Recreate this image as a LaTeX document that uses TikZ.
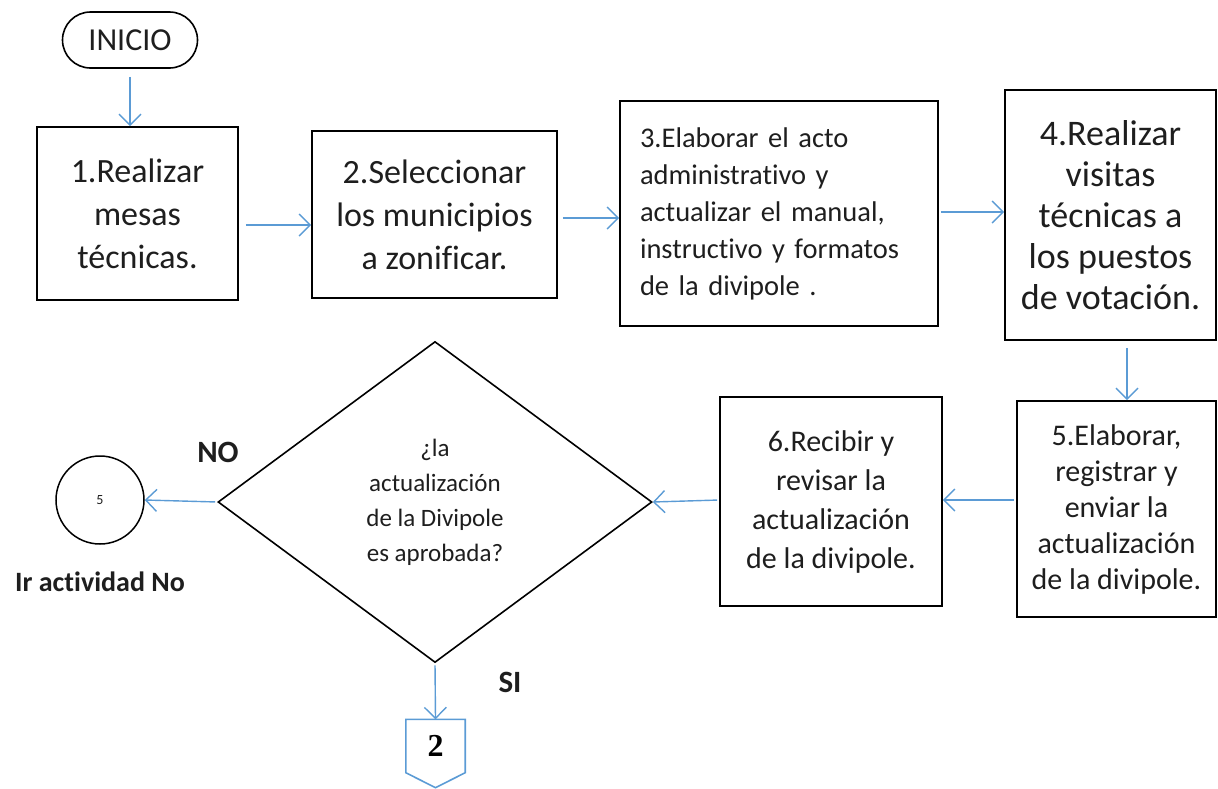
\documentclass[tikz,border=0pt]{standalone}
\usepackage{fontspec}
\setmainfont[Ligatures={NoCommon}]{Carlito}
\newfontfamily\serifb{Liberation Serif}
\usetikzlibrary{arrows.meta,shapes.geometric,calc}
\definecolor{arrowblue}{RGB}{91,155,213}
\definecolor{txt}{RGB}{30,30,30}
\tikzset{
  stepbox/.style={draw=black,line width=1.6pt,align=center,inner sep=0pt,text=txt},
  flow/.style={draw=arrowblue,line width=1.4pt,-{Straight Barb[length=11pt,width=22pt,line width=1.4pt]}},
  lbl/.style={font=\fontsize{28}{32}\selectfont\bfseries,text=txt}
}
\begin{document}
\begin{tikzpicture}[x=1pt,y=-1pt]
\useasboundingbox (0,0) rectangle (1218,788);
\node[stepbox,rounded corners=28pt,minimum width=135pt,minimum height=56pt,font=\fontsize{32}{36}\selectfont] (ini) at (130,40) {INICIO};
\node[stepbox,minimum width=201pt,minimum height=173pt,font=\fontsize{34}{43}\selectfont] (b1) at (137.5,213.5) {1.Realizar\\mesas\\técnicas.};
\node[stepbox,minimum width=245pt,minimum height=167pt,font=\fontsize{34}{43}\selectfont] (b2) at (434.5,214.5) {2.Seleccionar\\los municipios\\a zonificar.};
\node[stepbox,minimum width=318pt,minimum height=225pt,text width=278pt,align=left,font=\fontsize{28.5}{37}\selectfont] (b3) at (779,213.5) {3.Elaborar el acto\\administrativo y\\actualizar el manual,\\instructivo y formatos\\de la divipole .};
\node[stepbox,minimum width=211pt,minimum height=250pt,font=\fontsize{36}{41}\selectfont] (b4) at (1110.5,215) {4.Realizar\\visitas\\técnicas a\\los puestos\\de votación.};
\node[stepbox,minimum width=199pt,minimum height=216pt,font=\fontsize{30}{36}\selectfont] (b5) at (1116.5,509) {5.Elaborar,\\registrar y\\enviar la\\actualización\\de la divipole.};
\node[stepbox,minimum width=222pt,minimum height=209pt,font=\fontsize{30}{39}\selectfont] (b6) at (831,501.5) {6.Recibir y\\revisar la\\actualización\\de la divipole.};
\node[stepbox,diamond,minimum width=434pt,minimum height=321pt,font=\fontsize{25}{35}\selectfont] (dec) at (435,502) {¿la\\actualización\\de la Divipole\\es aprobada?};
\node[draw=black,line width=1.5pt,circle,minimum size=88pt,inner sep=0pt,font=\fontsize{14}{16}\selectfont,text=txt] (c5) at (100,500) {5};
\node[lbl] (irno) at (100,582) {Ir actividad No};
\node[lbl,font=\fontsize{31}{34}\selectfont\bfseries] (no) at (218,452) {NO};
\node[lbl,font=\fontsize{31}{34}\selectfont\bfseries] (si) at (510,682) {SI};
\node[minimum width=59pt,minimum height=53pt,inner sep=0pt,font=\serifb\fontsize{32}{36}\selectfont\bfseries] (off) at (435.5,746) {2};
\coordinate (offtip) at ($(off.south)+(0,15)$);
\draw[draw=arrowblue,line width=1.6pt] (off.south west) -- (off.north west) -- (off.north east) -- (off.south east) -- (offtip) -- cycle;
\draw[flow,shorten <=8pt] (ini.south) -- (ini.south |- b1.north);
\draw[flow,shorten <=7pt] ([yshift=-11.5pt]b1.east) -- ([yshift=-11.5pt]b1.east -| b2.west);
\draw[flow,shorten <=5pt] ([yshift=-3.5pt]b2.east) -- ([yshift=-3.5pt]b2.east -| b3.west);
\draw[flow,shorten <=2pt] ([yshift=1.5pt]b3.east) -- ([yshift=1.5pt]b3.east -| b4.west);
\draw[flow,shorten <=7pt] ([xshift=16.5pt]b4.south) -- ([xshift=16.5pt]b4.south |- b5.north);
\draw[flow,shorten <=2pt] ([yshift=9pt]b5.west) -- ([yshift=9pt]b5.west -| b6.east);
\draw[flow,shorten <=2pt] ([yshift=1.5pt]b6.west) -- (dec.east);
\draw[flow,shorten <=2pt] (dec.west) -- (c5.east);
\draw[flow,shorten <=2pt] (dec.south) -- (off.north);
\end{tikzpicture}
\end{document}
